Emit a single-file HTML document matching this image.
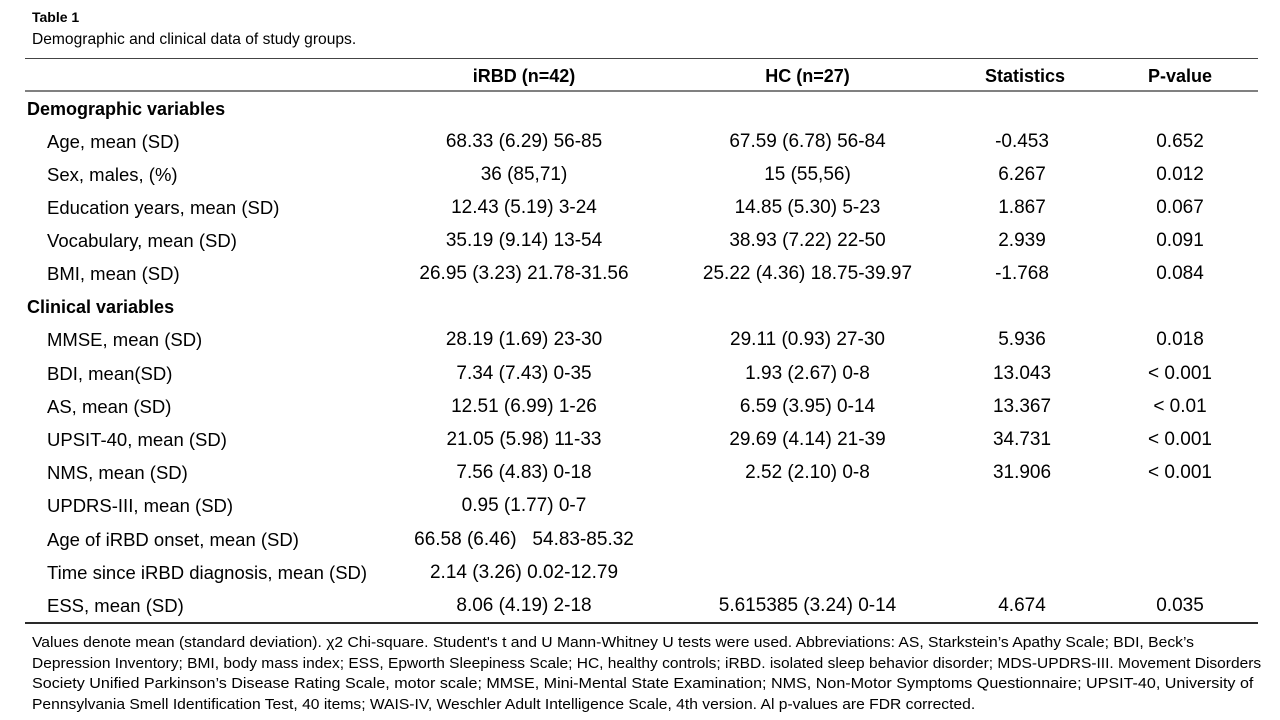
<!DOCTYPE html>
<html>
<head>
<meta charset="utf-8">
<style>
  html, body { margin:0; padding:0; background:#ffffff; }
  body { width:1280px; height:720px; position:relative; overflow:hidden;
         font-family:"Liberation Sans", Arial, sans-serif; color:#000; }
  .t { position:absolute; white-space:nowrap; line-height:30px; height:30px; }
  .lab { font-size:18.5px; left:47px; }
  .sec { font-size:18px; font-weight:bold; left:27px; }
  .hd { font-size:18px; font-weight:bold; width:300px; text-align:center; }
  .v { font-size:19px; width:300px; text-align:center; }
  .c1 { left:374px; }
  .c2 { left:657.5px; }
  .c3 { left:872px; }
  .c4 { left:1030px; }
  .line { position:absolute; left:25px; width:1233px; }
  .fn { position:absolute; left:32px; font-size:14.3px; line-height:20px; height:20px;
        white-space:nowrap; transform-origin:0 50%; color:#000; }
</style>
</head>
<body>

<div class="t" style="left:32px; top:2px; font-size:14px; font-weight:bold;">Table 1</div>
<div class="t" style="left:32px; top:25px; font-size:15.6px;">Demographic and clinical data of study groups.</div>

<div class="line" style="top:58px; height:1px; background:#444;"></div>
<div class="line" style="top:90px; height:2px; background:#808080;"></div>
<div class="line" style="top:622px; height:1.5px; background:#2a2a2a;"></div>

<div class="t hd c1" style="top:61px;">iRBD (n=42)</div>
<div class="t hd c2" style="top:61px;">HC (n=27)</div>
<div class="t hd" style="left:875px; top:61px;">Statistics</div>
<div class="t hd c4" style="top:61px;">P-value</div>

<div class="t sec" style="top:94px;">Demographic variables</div>

<div class="t lab" style="top:127px;">Age, mean (SD)</div>
<div class="t v c1" style="top:127px;">68.33 (6.29) 56-85</div>
<div class="t v c2" style="top:127px;">67.59 (6.78) 56-84</div>
<div class="t v c3" style="top:127px;">-0.453</div>
<div class="t v c4" style="top:127px;">0.652</div>

<div class="t lab" style="top:160px;">Sex, males, (%)</div>
<div class="t v c1" style="top:160px;">36 (85,71)</div>
<div class="t v c2" style="top:160px;">15 (55,56)</div>
<div class="t v c3" style="top:160px;">6.267</div>
<div class="t v c4" style="top:160px;">0.012</div>

<div class="t lab" style="top:193px;">Education years, mean (SD)</div>
<div class="t v c1" style="top:193px;">12.43 (5.19) 3-24</div>
<div class="t v c2" style="top:193px;">14.85 (5.30) 5-23</div>
<div class="t v c3" style="top:193px;">1.867</div>
<div class="t v c4" style="top:193px;">0.067</div>

<div class="t lab" style="top:226px;">Vocabulary, mean (SD)</div>
<div class="t v c1" style="top:226px;">35.19 (9.14) 13-54</div>
<div class="t v c2" style="top:226px;">38.93 (7.22) 22-50</div>
<div class="t v c3" style="top:226px;">2.939</div>
<div class="t v c4" style="top:226px;">0.091</div>

<div class="t lab" style="top:259px;">BMI, mean (SD)</div>
<div class="t v c1" style="top:259px;">26.95 (3.23) 21.78-31.56</div>
<div class="t v c2" style="top:259px;">25.22 (4.36) 18.75-39.97</div>
<div class="t v c3" style="top:259px;">-1.768</div>
<div class="t v c4" style="top:259px;">0.084</div>

<div class="t sec" style="top:292px;">Clinical variables</div>

<div class="t lab" style="top:325px;">MMSE, mean (SD)</div>
<div class="t v c1" style="top:325px;">28.19 (1.69) 23-30</div>
<div class="t v c2" style="top:325px;">29.11 (0.93) 27-30</div>
<div class="t v c3" style="top:325px;">5.936</div>
<div class="t v c4" style="top:325px;">0.018</div>

<div class="t lab" style="top:359px;">BDI, mean(SD)</div>
<div class="t v c1" style="top:359px;">7.34 (7.43) 0-35</div>
<div class="t v c2" style="top:359px;">1.93 (2.67) 0-8</div>
<div class="t v c3" style="top:359px;">13.043</div>
<div class="t v c4" style="top:359px;">&lt; 0.001</div>

<div class="t lab" style="top:392px;">AS, mean (SD)</div>
<div class="t v c1" style="top:392px;">12.51 (6.99) 1-26</div>
<div class="t v c2" style="top:392px;">6.59 (3.95) 0-14</div>
<div class="t v c3" style="top:392px;">13.367</div>
<div class="t v c4" style="top:392px;">&lt; 0.01</div>

<div class="t lab" style="top:425px;">UPSIT-40, mean (SD)</div>
<div class="t v c1" style="top:425px;">21.05 (5.98) 11-33</div>
<div class="t v c2" style="top:425px;">29.69 (4.14) 21-39</div>
<div class="t v c3" style="top:425px;">34.731</div>
<div class="t v c4" style="top:425px;">&lt; 0.001</div>

<div class="t lab" style="top:458px;">NMS, mean (SD)</div>
<div class="t v c1" style="top:458px;">7.56 (4.83) 0-18</div>
<div class="t v c2" style="top:458px;">2.52 (2.10) 0-8</div>
<div class="t v c3" style="top:458px;">31.906</div>
<div class="t v c4" style="top:458px;">&lt; 0.001</div>

<div class="t lab" style="top:491px;">UPDRS-III, mean (SD)</div>
<div class="t v c1" style="top:491px;">0.95 (1.77) 0-7</div>

<div class="t lab" style="top:525px;">Age of iRBD onset, mean (SD)</div>
<div class="t v c1" style="top:525px;">66.58 (6.46)&nbsp;&nbsp; 54.83-85.32</div>

<div class="t lab" style="top:558px;">Time since iRBD diagnosis, mean (SD)</div>
<div class="t v c1" style="top:558px;">2.14 (3.26) 0.02-12.79</div>

<div class="t lab" style="top:591px;">ESS, mean (SD)</div>
<div class="t v c1" style="top:591px;">8.06 (4.19) 2-18</div>
<div class="t v c2" style="top:591px;">5.615385 (3.24) 0-14</div>
<div class="t v c3" style="top:591px;">4.674</div>
<div class="t v c4" style="top:591px;">0.035</div>

<div class="fn" id="f1" style="top:633px;">Values denote mean (standard deviation). χ2 Chi-square. Student's t and U Mann-Whitney U tests were used. Abbreviations: AS, Starkstein’s Apathy Scale; BDI, Beck’s</div>
<div class="fn" id="f2" style="top:654px;">Depression Inventory; BMI, body mass index; ESS, Epworth Sleepiness Scale; HC, healthy controls; iRBD. isolated sleep behavior disorder; MDS-UPDRS-III. Movement Disorders</div>
<div class="fn" id="f3" style="top:674px;">Society Unified Parkinson’s Disease Rating Scale, motor scale; MMSE, Mini-Mental State Examination; NMS, Non-Motor Symptoms Questionnaire; UPSIT-40, University of</div>
<div class="fn" id="f4" style="top:695px;">Pennsylvania Smell Identification Test, 40 items; WAIS-IV, Weschler Adult Intelligence Scale, 4th version. Al p-values are FDR corrected.</div>

<script>
(function(){
  var targets = {f1:1162, f2:1229, f3:1221, f4:943};
  for (var id in targets) {
    var el = document.getElementById(id);
    if (!el) continue;
    var w = el.scrollWidth;
    if (w > 0) {
      el.style.transform = 'scaleX(' + (targets[id] / w) + ')';
    }
  }
})();
</script>
</body>
</html>
